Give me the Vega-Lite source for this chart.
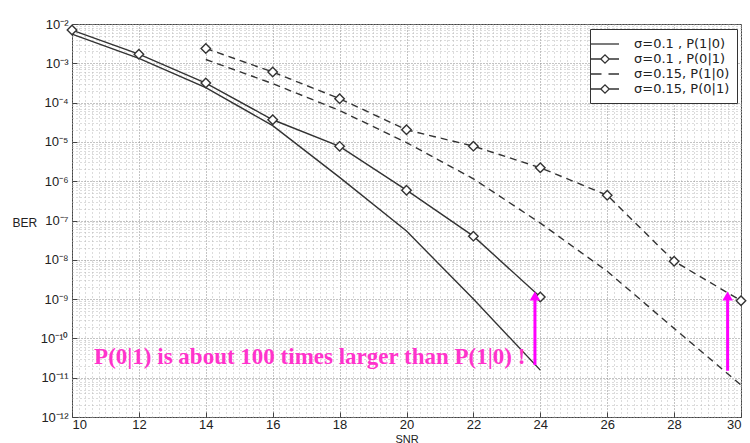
{
  "$schema": "https://vega.github.io/schema/vega-lite/v6.json",
  "autosize": "none",
  "width": 669,
  "height": 393,
  "padding": {"left": 72, "top": 24, "right": 9, "bottom": 26},
  "background": "white",
  "config": {
    "view": {"stroke": "#444", "strokeWidth": 1},
    "axis": {"labelFont": "Liberation Sans", "labelFontSize": 13, "labelColor": "#222", "titleFont": "Liberation Sans", "titleFontSize": 12, "titleFontWeight": "normal", "titleColor": "#222"}
  },
  "datasets": {
    "curves": [
      {"snr": 10, "ber": 5.5e-3, "series": "σ=0.1 , P(1|0)"},
      {"snr": 12, "ber": 1.33e-3, "series": "σ=0.1 , P(1|0)"},
      {"snr": 14, "ber": 2.4e-4, "series": "σ=0.1 , P(1|0)"},
      {"snr": 16, "ber": 2.6e-5, "series": "σ=0.1 , P(1|0)"},
      {"snr": 18, "ber": 1.25e-6, "series": "σ=0.1 , P(1|0)"},
      {"snr": 20, "ber": 5.4e-8, "series": "σ=0.1 , P(1|0)"},
      {"snr": 22, "ber": 1.0e-9, "series": "σ=0.1 , P(1|0)"},
      {"snr": 24, "ber": 1.56e-11, "series": "σ=0.1 , P(1|0)"},
      {"snr": 10, "ber": 7.0e-3, "series": "σ=0.1 , P(0|1)"},
      {"snr": 12, "ber": 1.71e-3, "series": "σ=0.1 , P(0|1)"},
      {"snr": 14, "ber": 3.15e-4, "series": "σ=0.1 , P(0|1)"},
      {"snr": 16, "ber": 3.66e-5, "series": "σ=0.1 , P(0|1)"},
      {"snr": 18, "ber": 7.7e-6, "series": "σ=0.1 , P(0|1)"},
      {"snr": 20, "ber": 5.9e-7, "series": "σ=0.1 , P(0|1)"},
      {"snr": 22, "ber": 4.0e-8, "series": "σ=0.1 , P(0|1)"},
      {"snr": 24, "ber": 1.13e-9, "series": "σ=0.1 , P(0|1)"},
      {"snr": 14, "ber": 1.25e-3, "series": "σ=0.15, P(1|0)"},
      {"snr": 16, "ber": 3.04e-4, "series": "σ=0.15, P(1|0)"},
      {"snr": 18, "ber": 6.3e-5, "series": "σ=0.15, P(1|0)"},
      {"snr": 20, "ber": 9.6e-6, "series": "σ=0.15, P(1|0)"},
      {"snr": 22, "ber": 1.15e-6, "series": "σ=0.15, P(1|0)"},
      {"snr": 24, "ber": 8.6e-8, "series": "σ=0.15, P(1|0)"},
      {"snr": 26, "ber": 5.1e-9, "series": "σ=0.15, P(1|0)"},
      {"snr": 28, "ber": 1.8e-10, "series": "σ=0.15, P(1|0)"},
      {"snr": 30, "ber": 6.5e-12, "series": "σ=0.15, P(1|0)"},
      {"snr": 14, "ber": 2.39e-3, "series": "σ=0.15, P(0|1)"},
      {"snr": 16, "ber": 6.0e-4, "series": "σ=0.15, P(0|1)"},
      {"snr": 18, "ber": 1.26e-4, "series": "σ=0.15, P(0|1)"},
      {"snr": 20, "ber": 2.03e-5, "series": "σ=0.15, P(0|1)"},
      {"snr": 22, "ber": 7.8e-6, "series": "σ=0.15, P(0|1)"},
      {"snr": 24, "ber": 2.2e-6, "series": "σ=0.15, P(0|1)"},
      {"snr": 26, "ber": 4.4e-7, "series": "σ=0.15, P(0|1)"},
      {"snr": 28, "ber": 9.2e-9, "series": "σ=0.15, P(0|1)"},
      {"snr": 30, "ber": 9.1e-10, "series": "σ=0.15, P(0|1)"}
    ],
    "arrows": [
      {"snr": 23.84, "low": 2.1e-11, "high": 1.2e-9},
      {"snr": 29.6, "low": 1.5e-11, "high": 1.2e-9}
    ],
    "note": [
      {"snr": 10.66, "ber": 3.4e-11, "label": "P(0|1) is about 100 times larger than P(1|0) !"}
    ]
  },
  "resolve": {"axis": {"x": "independent", "y": "independent"}},
  "layer": [
    {
      "data": {"name": "curves"},
      "mark": {"type": "point", "size": 0, "opacity": 0},
      "encoding": {
        "x": {"field": "snr", "type": "quantitative", "scale": {"domain": [10, 30], "nice": false, "zero": false},
          "axis": {"orient": "top", "title": null, "labels": false, "ticks": false, "domain": false, "grid": true, "gridColor": "#b8b8b8", "gridDash": [1, 3], "gridWidth": 1,
            "values": [10.2,10.4,10.6,10.8,11,11.2,11.4,11.6,11.8,12.2,12.4,12.6,12.8,13,13.2,13.4,13.6,13.8,14.2,14.4,14.6,14.8,15,15.2,15.4,15.6,15.8,16.2,16.4,16.6,16.8,17,17.2,17.4,17.6,17.8,18.2,18.4,18.6,18.8,19,19.2,19.4,19.6,19.8,20.2,20.4,20.6,20.8,21,21.2,21.4,21.6,21.8,22.2,22.4,22.6,22.8,23,23.2,23.4,23.6,23.8,24.2,24.4,24.6,24.8,25,25.2,25.4,25.6,25.8,26.2,26.4,26.6,26.8,27,27.2,27.4,27.6,27.8,28.2,28.4,28.6,28.8,29,29.2,29.4,29.6,29.8]}},
        "y": {"field": "ber", "type": "quantitative", "scale": {"type": "log", "domain": [1e-12, 1e-2], "nice": false},
          "axis": {"orient": "right", "title": null, "labels": false, "ticks": false, "domain": false, "grid": true, "gridColor": "#b8b8b8", "gridDash": [1, 3], "gridWidth": 1,
            "values": [2e-12,3e-12,4e-12,5e-12,6e-12,7e-12,8e-12,9e-12,2e-11,3e-11,4e-11,5e-11,6e-11,7e-11,8e-11,9e-11,2e-10,3e-10,4e-10,5e-10,6e-10,7e-10,8e-10,9e-10,2e-9,3e-9,4e-9,5e-9,6e-9,7e-9,8e-9,9e-9,2e-8,3e-8,4e-8,5e-8,6e-8,7e-8,8e-8,9e-8,2e-7,3e-7,4e-7,5e-7,6e-7,7e-7,8e-7,9e-7,2e-6,3e-6,4e-6,5e-6,6e-6,7e-6,8e-6,9e-6,2e-5,3e-5,4e-5,5e-5,6e-5,7e-5,8e-5,9e-5,2e-4,3e-4,4e-4,5e-4,6e-4,7e-4,8e-4,9e-4,2e-3,3e-3,4e-3,5e-3,6e-3,7e-3,8e-3,9e-3]}}
      }
    },
    {
      "data": {"name": "curves"},
      "transform": [{"filter": {"field": "series", "oneOf": ["σ=0.1 , P(1|0)", "σ=0.1 , P(0|1)"]}}],
      "mark": {"type": "line", "color": "#333", "strokeWidth": 1.4},
      "encoding": {
        "x": {"field": "snr", "type": "quantitative",
          "axis": {"orient": "bottom", "title": "SNR", "titleY": 16, "titleFontSize": 11, "titleBaseline": "top", "values": [10,12,14,16,18,20,22,24,26,28,30], "grid": true, "gridColor": "#888", "gridDash": [1, 2], "tickSize": -5, "tickColor": "#444", "labelPadding": 6, "domain": false}},
        "y": {"field": "ber", "type": "quantitative",
          "axis": {"orient": "left", "title": "BER", "titleAngle": 0, "titleX": -60, "titleY": 198, "titleAlign": "left", "titleBaseline": "middle",
            "values": [1e-12,1e-11,1e-10,1e-9,1e-8,1e-7,1e-6,1e-5,1e-4,1e-3,1e-2], "grid": true, "gridColor": "#888", "gridDash": [1, 2], "tickSize": -5, "tickColor": "#444", "labelPadding": 9, "domain": false,
            "labelExpr": "'10' + ['⁻¹²','⁻¹¹','⁻¹⁰','⁻⁹','⁻⁸','⁻⁷','⁻⁶','⁻⁵','⁻⁴','⁻³','⁻²'][round(log(datum.value)/LN10)+12]"}},
        "detail": {"field": "series"}
      }
    },
    {
      "data": {"name": "curves"},
      "transform": [{"filter": {"field": "series", "oneOf": ["σ=0.15, P(1|0)", "σ=0.15, P(0|1)"]}}],
      "mark": {"type": "line", "color": "#333", "strokeWidth": 1.4, "strokeDash": [7, 5]},
      "encoding": {
        "x": {"field": "snr", "type": "quantitative", "axis": null},
        "y": {"field": "ber", "type": "quantitative", "axis": null},
        "detail": {"field": "series"}
      }
    },
    {
      "data": {"name": "curves"},
      "transform": [{"filter": {"field": "series", "oneOf": ["σ=0.1 , P(0|1)", "σ=0.15, P(0|1)"]}}],
      "mark": {"type": "point", "shape": "diamond", "size": 90, "filled": true, "fill": "white", "stroke": "#333", "strokeWidth": 1.4, "opacity": 1},
      "encoding": {
        "x": {"field": "snr", "type": "quantitative", "axis": null},
        "y": {"field": "ber", "type": "quantitative", "axis": null}
      }
    },
    {
      "data": {"name": "arrows"},
      "mark": {"type": "rule", "color": "#ff00ff", "strokeWidth": 3},
      "encoding": {
        "x": {"field": "snr", "type": "quantitative", "axis": null},
        "y": {"field": "low", "type": "quantitative", "axis": null},
        "y2": {"field": "high"}
      }
    },
    {
      "data": {"name": "arrows"},
      "mark": {"type": "point", "shape": "triangle-up", "size": 110, "filled": true, "color": "#ff00ff", "opacity": 1},
      "encoding": {
        "x": {"field": "snr", "type": "quantitative", "axis": null},
        "y": {"field": "high", "type": "quantitative", "axis": null}
      }
    },
    {
      "data": {"name": "note"},
      "mark": {"type": "text", "align": "left", "baseline": "middle", "font": "Liberation Serif", "fontWeight": "bold", "fontSize": 23, "color": "#ff33cc"},
      "encoding": {
        "x": {"field": "snr", "type": "quantitative", "axis": null},
        "y": {"field": "ber", "type": "quantitative", "axis": null},
        "text": {"field": "label"}
      }
    },
    {
      "data": {"name": "curves"},
      "mark": {"type": "point", "size": 0},
      "encoding": {
        "x": {"field": "snr", "type": "quantitative", "axis": null},
        "y": {"field": "ber", "type": "quantitative", "axis": null},
        "shape": {"field": "series", "type": "nominal",
          "scale": {"domain": ["σ=0.1 , P(1|0)", "σ=0.1 , P(0|1)", "σ=0.15, P(1|0)", "σ=0.15, P(0|1)"],
            "range": ["M-2,0H2", "M-2,0H-0.6M0.6,0H2M-0.6,0L0,-0.6L0.6,0L0,0.6Z", "M-2,0H-0.5M0.5,0H2", "M-2,0H-0.6M0.6,0H2M-0.6,0L0,-0.6L0.6,0L0,0.6Z"]},
          "legend": {"title": null, "orient": "none", "legendX": 518, "legendY": 5, "strokeColor": "#333", "fillColor": "white", "padding": 7,
            "symbolSize": 196, "symbolStrokeColor": "#333", "symbolFillColor": "white", "symbolStrokeWidth": 1.3, "symbolOpacity": 1,
            "labelFont": "DejaVu Sans", "labelFontSize": 13, "labelColor": "#222", "labelOffset": 21, "rowPadding": -3}}
      }
    }
  ]
}
